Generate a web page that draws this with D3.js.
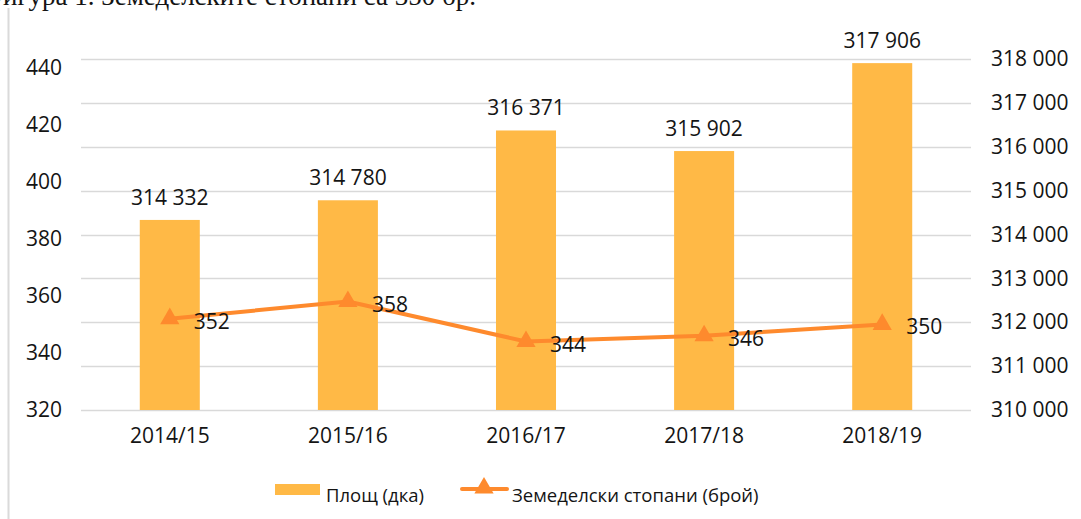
<!DOCTYPE html>
<html>
<head>
<meta charset="utf-8">
<script src="https://cdn.jsdelivr.net/npm/d3@7"></script>
<style>
  body { margin: 0; background: #fff; }
  text { font-family: "Open Sans", sans-serif; fill: #141414; }
</style>
</head>
<body>
<div id="chart"></div>
<script>
// data
var seasons = ["2014/15", "2015/16", "2016/17", "2017/18", "2018/19"];
var area = [314332, 314780, 316371, 315902, 317906];     // Площ (дка)
var farmers = [352, 358, 344, 346, 350];                  // Земеделски стопани (брой)
var leftTicks = [320, 340, 360, 380, 400, 420, 440];
var rightTicks = [310000, 311000, 312000, 313000, 314000, 315000, 316000, 317000, 318000];

var W = 1081, H = 519;
var margin = {top: 59, right: 110, bottom: 109, left: 81};
var width = W - margin.left - margin.right,
    height = H - margin.top - margin.bottom;

var barColor = "#FFB946", lineColor = "#FE8A2D", gridColor = "#D9D9D9";

var fmt = function(v) { return d3.format(",")(v).replace(/,/g, " "); };

var svg = d3.select("#chart")
  .append("svg")
    .attr("width", W)
    .attr("height", H);

// caption, cut by the top of the page as in the source
svg.append("text")
    .attr("x", 476)
    .attr("y", 5)
    .attr("text-anchor", "end")
    .style("font-family", "'Liberation Serif', serif")
    .style("font-size", "27px")
    .text("Фигура 1. Земеделските стопани са 350 бр.");

// frame line on the left
svg.append("line")
    .attr("x1", 8.5).attr("x2", 8.5)
    .attr("y1", 8).attr("y2", H)
    .style("stroke", "#DADADA")
    .style("stroke-width", 2);

var g = svg.append("g")
    .attr("transform", "translate(" + margin.left + "," + margin.top + ")");

// scales
var x = d3.scaleBand()
    .domain(seasons)
    .range([0, width])
    .paddingInner(0.663)
    .paddingOuter(0.33);

var yArea = d3.scaleLinear()
    .domain([310000, 318000])
    .range([height, 0]);

var yFarm = d3.scaleLinear()
    .domain([320, 443])
    .range([height, 0]);

// gridlines (from the right axis)
g.append("g")
  .selectAll("line")
  .data(rightTicks)
  .enter()
  .append("line")
    .attr("x1", 0)
    .attr("x2", width)
    .attr("y1", function(d) { return Math.round(yArea(d)) + 0.5; })
    .attr("y2", function(d) { return Math.round(yArea(d)) + 0.5; })
    .style("stroke", gridColor)
    .style("stroke-width", 1.5);

// left axis
var leftAxis = g.append("g")
    .style("font-size", "21px")
    .call(d3.axisLeft(yFarm).tickValues(leftTicks).tickSize(0).tickPadding(19));
leftAxis.select(".domain").remove();
leftAxis.selectAll("text").style("font-family", "'Open Sans', sans-serif").style("fill", "#141414");

// right axis
var rightAxis = g.append("g")
    .attr("transform", "translate(" + width + ",0)")
    .style("font-size", "21px")
    .call(d3.axisRight(yArea).tickValues(rightTicks).tickFormat(fmt).tickSize(0).tickPadding(20));
rightAxis.select(".domain").remove();
rightAxis.selectAll("text").style("font-family", "'Open Sans', sans-serif").style("fill", "#141414");

// bottom axis
var bottomAxis = g.append("g")
    .attr("transform", "translate(0," + height + ")")
    .style("font-size", "21px")
    .call(d3.axisBottom(x).tickSize(0).tickPadding(18));
bottomAxis.select(".domain").remove();
bottomAxis.selectAll("text").style("font-family", "'Open Sans', sans-serif").style("fill", "#141414");

// bars
g.selectAll(".bar")
  .data(area)
  .enter()
  .append("rect")
    .attr("class", "bar")
    .attr("x", function(d, i) { return x(seasons[i]); })
    .attr("y", function(d) { return yArea(d); })
    .attr("width", x.bandwidth())
    .attr("height", function(d) { return height - yArea(d); })
    .style("fill", barColor);

// bar labels
g.selectAll(".barlabel")
  .data(area)
  .enter()
  .append("text")
    .attr("x", function(d, i) { return x(seasons[i]) + x.bandwidth() / 2; })
    .attr("y", function(d) { return yArea(d) - 15; })
    .attr("text-anchor", "middle")
    .style("font-size", "21px")
    .text(fmt);

// line
var cx = function(d, i) { return x(seasons[i]) + x.bandwidth() / 2; };
var line = d3.line()
    .x(cx)
    .y(function(d) { return yFarm(d); });

g.append("path")
    .datum(farmers)
    .attr("d", line)
    .style("fill", "none")
    .style("stroke", lineColor)
    .style("stroke-width", 4)
    .style("stroke-linejoin", "round")
    .style("stroke-linecap", "round");

var tri = d3.symbol().type(d3.symbolTriangle).size(160);
g.selectAll(".marker")
  .data(farmers)
  .enter()
  .append("path")
    .attr("d", tri)
    .attr("transform", function(d, i) { return "translate(" + cx(d, i) + "," + yFarm(d) + ")"; })
    .style("fill", lineColor);

g.selectAll(".linelabel")
  .data(farmers)
  .enter()
  .append("text")
    .attr("x", function(d, i) { return cx(d, i) + 24; })
    .attr("y", function(d) { return yFarm(d) + 10; })
    .style("font-size", "21px")
    .text(function(d) { return d; });

// legend
var legend = svg.append("g");
legend.append("rect")
    .attr("x", 275).attr("y", 484)
    .attr("width", 45).attr("height", 11)
    .style("fill", barColor);
legend.append("text")
    .attr("x", 326).attr("y", 502)
    .style("font-size", "18.5px")
    .text("Площ (дка)");
legend.append("line")
    .attr("x1", 462).attr("x2", 507)
    .attr("y1", 489).attr("y2", 489)
    .style("stroke", lineColor)
    .style("stroke-width", 4)
    .style("stroke-linecap", "round");
legend.append("path")
    .attr("d", tri)
    .attr("transform", "translate(484,488)")
    .style("fill", lineColor);
legend.append("text")
    .attr("x", 512).attr("y", 502)
    .style("font-size", "18.5px")
    .text("Земеделски стопани (брой)");
</script>
</body>
</html>
